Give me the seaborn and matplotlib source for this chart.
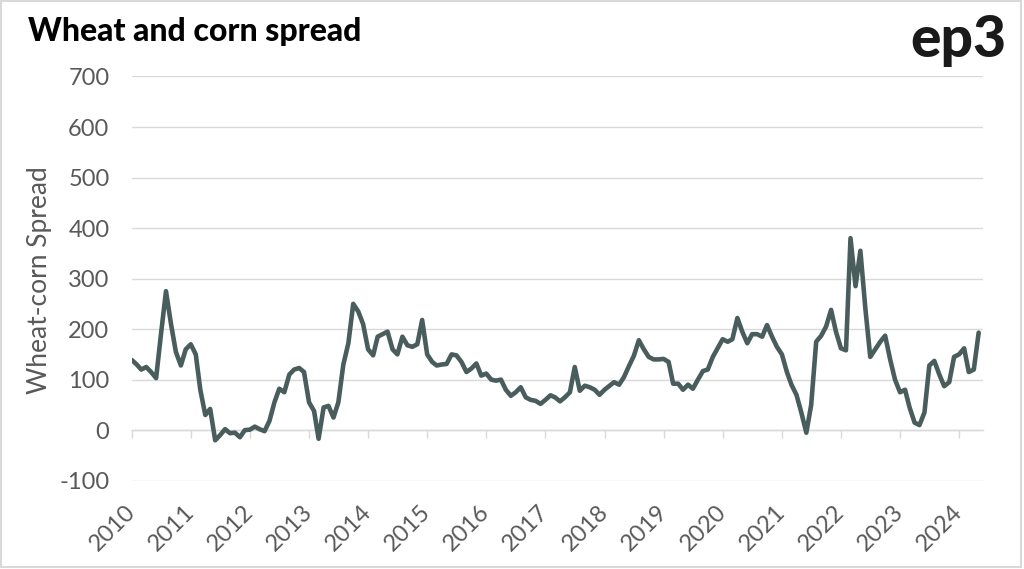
import pandas as pd
import matplotlib
matplotlib.use('Agg')
import matplotlib.pyplot as plt
import matplotlib.dates as mdates
import matplotlib.patches as patches
import seaborn as sns

# Monthly wheat-corn spread, Jan 2010 - May 2024
spread = [
    139, 130, 120, 125, 115, 103, 190, 275, 210, 155, 128, 160,   # 2010
    170, 150, 80, 30, 42, -20, -10, 2, -6, -5, -14, 0,            # 2011
    1, 7, 2, -2, 18, 55, 82, 75, 110, 120, 123, 115,              # 2012
    55, 38, -17, 45, 48, 25, 55, 130, 172, 250, 235, 210,         # 2013
    160, 148, 185, 190, 195, 160, 150, 185, 168, 165, 170, 218,   # 2014
    150, 135, 128, 130, 131, 150, 148, 135, 115, 122, 132, 108,   # 2015
    112, 100, 98, 100, 80, 68, 75, 85, 65, 60, 58, 52,            # 2016
    60, 69, 65, 57, 65, 75, 125, 78, 88, 85, 80, 70,              # 2017
    80, 88, 95, 90, 105, 127, 147, 178, 160, 145, 140, 140,       # 2018
    141, 135, 92, 92, 80, 90, 82, 100, 117, 120, 145, 162,        # 2019
    180, 175, 180, 222, 195, 172, 190, 190, 185, 208, 185, 165,   # 2020
    150, 115, 90, 70, 35, -5, 50, 175, 187, 205, 238, 195,        # 2021
    162, 158, 380, 285, 355, 240, 145, 160, 175, 187, 140, 100,   # 2022
    75, 80, 45, 15, 10, 35, 128, 137, 110, 87, 95, 145,           # 2023
    150, 162, 115, 120, 193,                                      # 2024
]
dates = pd.date_range('2010-01-01', periods=len(spread), freq='MS')
df = pd.DataFrame({'date': dates, 'spread': spread})

line_color = '#4a5d5d'
grid_color = '#d9d9d9'
text_color = '#595959'

sns.set_style('white')
plt.rcParams['font.family'] = ['Lato', 'DejaVu Sans']
plt.rcParams['axes.unicode_minus'] = False

fig = plt.figure(figsize=(10.24, 5.69), dpi=100)
ax = fig.add_axes([0.1286, 0.1552, 0.8314, 0.7104])

sns.lineplot(data=df, x='date', y='spread', color=line_color, linewidth=3.3, ax=ax)

ax.set_ylim(-100, 700)
ax.set_yticks(range(-100, 701, 100))
ax.set_xlim(pd.Timestamp('2010-01-01'), pd.Timestamp('2024-05-28'))
ax.yaxis.grid(True, color=grid_color, linewidth=1)
ax.set_axisbelow(True)
for s in ax.spines.values():
    s.set_visible(False)

ax.xaxis.set_major_locator(mdates.YearLocator())
ax.xaxis.set_major_formatter(mdates.DateFormatter('%Y'))
ax.tick_params(axis='x', length=0, pad=20, labelsize=17, labelcolor=text_color)
ax.tick_params(axis='y', length=0, pad=16, labelsize=17, labelcolor=text_color)
for lab in ax.get_xticklabels():
    lab.set_rotation(45)
    lab.set_ha('right')
    lab.set_va('center')
    lab.set_rotation_mode('anchor')
ax.set_xlabel('')
ax.set_ylabel('')

# category axis crossing at zero, with tick marks
sec = ax.secondary_xaxis(0.125)
sec.xaxis.set_major_locator(mdates.YearLocator())
sec.tick_params(axis='x', length=6, width=1, color=grid_color, labelbottom=False)
sec.spines['bottom'].set_color(grid_color)
sec.spines['bottom'].set_linewidth(1)

fig.text(40 / 1024, 1 - 280 / 569, 'Wheat-corn Spread', rotation=90,
         ha='center', va='center', fontsize=19, color=text_color)
fig.text(28 / 1024, 1 - 41 / 569, 'Wheat and corn spread', ha='left', va='baseline',
         fontsize=23, fontweight='black', color='#000000')
fig.text(1006 / 1024, 1 - 57 / 569, 'ep3', ha='right', va='baseline',
         fontsize=41, fontweight='black', color='#1a1a1a')

fig.patches.append(patches.Rectangle((0.001, 0.003), 0.996, 0.995, transform=fig.transFigure,
                                     fill=False, edgecolor=grid_color, linewidth=1.5))

fig.savefig('out.png', dpi=100)
